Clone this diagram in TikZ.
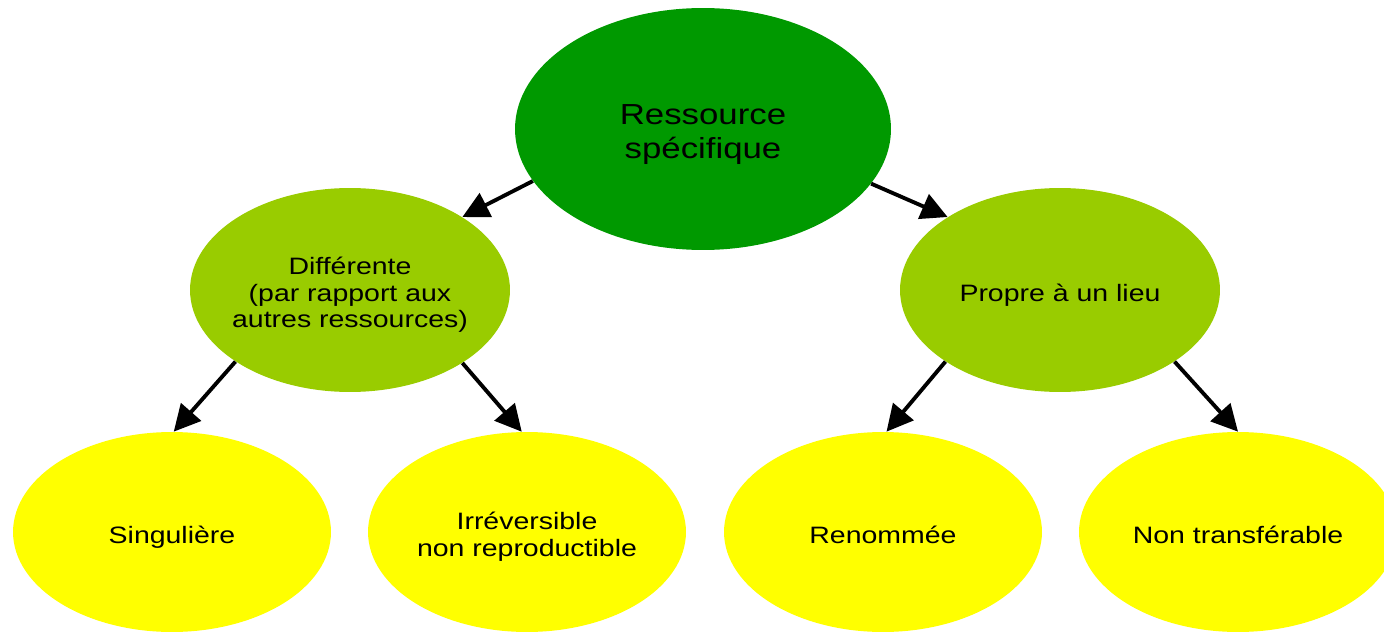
\documentclass[tikz,border=0pt]{standalone}
\usepackage{fontspec}
\setmainfont{Liberation Sans}[FakeStretch=1.2]
\usepackage{tikz}
\usetikzlibrary{shapes,arrows.meta,positioning}

\definecolor{DarkGreen}{HTML}{009900}
\definecolor{LightGreen}{HTML}{99CC00}
\definecolor{Yel}{HTML}{FFFF00}

% text sits a little below the centre of its ellipse
\newcommand{\Lbl}[1]{\raisebox{-3.2pt}[\height][\depth]{\begin{tabular}{@{}c@{}}#1\end{tabular}}}

\begin{document}
\begin{tikzpicture}[x=0.02cm,y=-0.02cm]
			\tikzstyle{Root}	= [ellipse, fill=DarkGreen, minimum width=7.52cm, minimum height=4.84cm, inner sep=0pt, font=\fontsize{16.5}{19.8}\selectfont]
			\tikzstyle{Middle}	= [ellipse, fill=LightGreen, minimum width=6.4cm, minimum height=4.08cm, inner sep=0pt, font=\fontsize{13.5}{15.3}\selectfont]
			\tikzstyle{Leaf}	= [ellipse, fill=Yel, minimum width=6.36cm, minimum height=4cm, inner sep=0pt, font=\fontsize{13.5}{15.3}\selectfont]
			\tikzstyle{Link}	= [line width=2.2pt, black, -{Triangle[length=15pt,width=15pt]}]

			\clip (0,0) rectangle (1384,632);

			\node (res) at (703,129) [Root] {\Lbl{Ressource\\spécifique}};
			\node (diff) at (350,290) [Middle, inner xsep=-6pt] {\Lbl{Différente\\(par rapport aux\\autres ressources)}};
			\node (lieu) at (1060,290) [Middle] {\Lbl{Propre à un lieu}};
			\node (sing) at (172,532) [Leaf] {\Lbl{Singulière}};
			\node (irr) at (527,532) [Leaf] {\Lbl{Irréversible\\non reproductible}};
			\node (ren) at (883,532) [Leaf] {\Lbl{Renommée}};
			\node (nont) at (1238,532) [Leaf] {\Lbl{Non transférable}};

			\draw (res.197.8) to (diff.33) [Link];
			\draw (res.342.4) to (lieu.147.6) [Link];
			\draw (diff.212) to (sing.89) [Link];
			\draw (diff.327) to (irr.93) [Link];
			\draw (lieu.212) to (ren.88) [Link];
			\draw (lieu.328) to (nont.90) [Link];

		\end{tikzpicture}
\end{document}
